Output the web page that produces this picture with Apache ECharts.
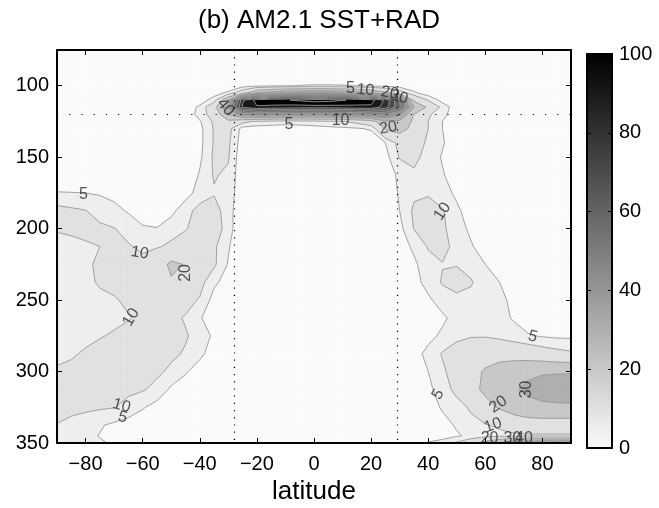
<!DOCTYPE html>
<html>
<head>
<meta charset="utf-8">
<script src="https://cdn.jsdelivr.net/npm/echarts@6/dist/echarts.min.js"></script>
<style>
  html, body { margin: 0; padding: 0; background: #fff; }
  #chart { width: 659px; height: 508px; }
</style>
</head>
<body>
<div id="chart"></div>
<script>
// grid of the field: latitude columns and pressure rows (hPa)
const lats = [-90,-85,-80,-75,-70,-65,-60,-55,-50,-45,-40,-35,-30,-25,-20,-15,-10,-5,0,5,10,15,20,25,30,35,40,45,50,55,60,65,70,75,80,85,90];
const pressures = [75,90,95,100,105,110,115,120,125,130,140,150,162.5,175,187.5,200,212.5,225,237.5,250,262.5,275,287.5,300,312.5,325,337.5,345,350];

// one row per pressure level, one value per latitude
const p075 = [0,0,0,0,0,0,0,0,0,0,0,0,0,0,0,0,0,0,0,0,0,0,0,0,0,0,0,0,0,0,0,0,0,0,0,0,0];
const p090 = [0,0,0,0,0,0,0,0,0,0,0,0,0,0,0,0,0,0,0,0,0,0,0,0,0,0,0,0,0,0,0,0,0,0,0,0,0];
const p095 = [0,0,0,0,0,0,0,0,0,0,0,0,0,0.3,0.6,1,1,1,1,1,1,1,0.6,0.4,0.2,0,0,0,0,0,0,0,0,0,0,0,0];
const p100 = [0,0,0,0,0,0,0,0,0,0,0,0.5,1.5,3,3.5,4,4.5,5.2,5.6,5.6,5.4,4.8,4,3.5,2.5,1.5,0.5,0,0,0,0,0,0,0,0,0,0];
const p105 = [0,0,0,0,0,0,0,0,0,0.3,1.2,3,6,15,30,35,38,40,40,40,38,35,30,22,14,6,2,0.5,0,0,0,0,0,0,0,0,0];
const p110 = [0,0,0,0,0,0,0,0,0.2,1,2.5,7,30,88,104,108,109,112,115,114,111,107,104,88,60,18,9.5,3,0.5,0,0,0,0,0,0,0,0];
const p115 = [0,0,0,0,0,0,0,0,0.3,2,6,16,42,92,99,97,96,95,95,95,96,97,98,85,62,30,18,8,2,0.3,0,0,0,0,0,0,0];
const p120 = [0,0,0,0,0,0,0,0,0.3,1.5,7,13,30,45,48,47,46,45,45,45,46,48,50,50,42,20,11,6.5,2,0.3,0,0,0,0,0,0,0];
const p125 = [0,0,0,0,0,0,0,0,0.2,0.5,4.5,11,18,12,9,8,7,7.5,8,9,9.5,12,16,28,28,18,10,5,1,0.2,0,0,0,0,0,0,0];
const p130 = [0,0,0,0,0,0,0,0,0,0.3,3.5,10.5,12,3,2.5,2.5,2.5,2.5,3,3.5,4,4.5,5.5,21,24,17,10,5,1,0,0,0,0,0,0,0,0];
const p140 = [0,0,0,0,0,0,0,0,0,0.2,3.5,10.5,11,2,1.5,1.2,1.2,1.2,1.2,1.2,1.2,1.2,2,5,12,13,9,5.5,2,0.3,0,0,0,0,0,0,0];
const p150 = [0.5,0.3,0,0,0,0,0,0,0.2,0.5,4,11,10.5,1,1,1,1,1,1,1,1,1,1,3,10.5,11.5,8,4.5,1.5,0.3,0,0,0,0,0,0,0];
const p162 = [2,2,1.5,1,0.5,0.2,0,0,0.3,1,5.5,10.5,9,1,1,1,1,1,1,1,1,1,1,2.5,6,9,8,5.5,2,0.5,0,0,0,0,0,0,0];
const p175 = [5.2,5.1,5,4.5,3.5,2,1,0.5,0.8,3,7,9.5,8,1,1,1,1,1,1,1,1,1,1,2,5.5,9,9.5,7,4,1.5,0.3,0,0,0,0,0,0];
const p187 = [12,11,10.2,8,6.5,4.5,2.5,2,3.5,8,12,12.5,7,1,1,1,1,1,1,1,1,1,1,1.5,5,11,12,10.5,6,2.5,0.5,0,0,0,0,0,0];
const p200 = [10.5,11,11.5,11,10.2,8,5.6,5.2,8,9.5,13,14,7,0.8,1,1,1,1,1,1,1,1,1,1,3.5,10.2,12,11,7,4,1.5,0.3,0,0,0,0,0];
const p212 = [8,8.5,9.3,10,11,10.5,9,9.5,11,14,15,11,5.5,0.8,1,1,1,1,1,1,1,1,1,0.5,2.5,6,10.5,11.5,8.5,5.5,2.5,1,0,0,0,0,0];
const p225 = [8,8.5,9.5,10.5,11,11.5,11.5,15,22,19.5,16,11,4.5,1,1,1,1,1,1,1,1,1,1,0.5,1,4,8,9.8,9.8,8,5,2.5,1,0,0,0,0];
const p237 = [7.5,7.5,9,10.5,11.5,12,12.5,14,19,17,12,6,3,1,1,1,1,1,1,1,1,1,1,0.5,0.5,3,7,10.5,11.5,10.5,7,5,2,0.5,0,0,0];
const p250 = [8,8,8.5,9,9.5,11,12.5,13,13.5,12,9.5,3,1.5,1,1,1,1,1,1,1,1,1,1,0.5,0.5,1.5,4,7.5,9,8.5,7,6,4,1.5,0.5,0,0];
const p262 = [8,8,8,8.5,9,9.7,11,12,11.5,9.5,5.5,2,1,1,1,1,1,1,1,1,1,1,1,0.5,0.5,1,3,4,7,7.5,7,6.5,4.5,2,1,0.5,0.5];
const p275 = [8,8.5,9,9.7,10.5,11.5,12,12,12,10.5,8,4,1.5,1,1,1,1,1,1,1,1,1,1,1,0.8,1.5,3.5,6,8.5,9.5,9.5,8.5,7,5.5,4.5,4,4];
const p287 = [9,9.5,10.5,11.5,12,12.5,12.5,12,11,9.5,6,3,1,1,1,1,1,1,1,1,1,1,1,1,1,3,6.5,10.5,13,15,16,16.5,16,15,13.5,12,11];
const p300 = [10.5,11,11.5,12,12.5,13,12.5,11,9,5.5,3,1.5,1,1,1,1,1,1,1,1,1,1,1,1,1,2,5,9,13,17,21,24,26,28,29,29,29];
const p312 = [12,12,12,12,11.5,11,10.5,8.5,4,2.5,1.5,1,1,1,1,1,1,1,1,1,1,1,1,1,1,2,4,7,12,17,22,26,29,32,34,36,36];
const p325 = [12,11.5,11,10.7,10.2,8.5,5.5,3,2,1.2,1,1,1,1,1,1,1,1,1,1,1,1,1,1,1,1.5,3,5.5,7.5,11,17,21,25,27,28,28,28];
const p337 = [9.8,8.5,7.5,5.5,4,2.5,1.5,1,1,1,1,1,1,1,1,1,1,1,1,1,1,1,1,1,1,1,2,3.5,5.5,8,9.5,11,13,15,15,15,15];
const p345 = [8,7,6,4.8,3,1.5,1,1,1,1,1,1,1,1,1,1,1,1,1,1,1,1,1,1,1,1,2,3,4.5,6,7.5,8.5,9,9,9,9,9];
const p350 = [8,7.5,6.5,5.5,4.5,2,1,1,1,1,1,1,1,1,1,1,1,1,1,1,1,1,1,1,1,2,5.5,7,11,16,24,32,41,44,45,45,45];

const field = [p075,p090,p095,p100,p105,p110,p115,p120,p125,p130,p140,p150,p162,p175,p187,p200,p212,p225,p237,p250,p262,p275,p287,p300,p312,p325,p337,p345,p350];

const levels = [5, 10, 20, 30, 40, 50, 60, 70, 80, 90, 100, 110];

// inline contour labels
const labelText = ['5','10','20','10','10','5','5','10','20','30','40','5','10','20','10','5','30','20','5','10','20','30','40'];
const labelLat  = [-80.7,-61,-44.8,-64,-67.4,-67,12.8,18,26.5,29.8,-31,-8.8,9.3,26,45,76.6,74.5,64.5,43.5,62.7,61.5,69.5,73.5];
const labelP    = [176,217,231,262,324,332,101.7,103,105,108,115,127.5,124.7,129.5,188,275.5,312.5,323,316,337.7,347,347,347];
const labelRot  = [0,-10,90,60,-15,-15,0,-5,-10,-15,-50,0,0,10,55,-15,90,35,60,20,0,0,0];

// dotted reference lines
const refLats = [-28, 29.3];
const refPressures = [120];

const xTicks = [-80,-60,-40,-20,0,20,40,60,80];
const yTicks = [100,150,200,250,300,350];
const colorbarRange = [0, 100];

const FONT = 'Liberation Sans, Arial, Helvetica, sans-serif';
const bandFloor = [0].concat(levels);

function shade(v) {
  const g = Math.max(0, Math.round(250 * (1 - v / 100)));
  return 'rgb(' + g + ',' + g + ',' + g + ')';
}

// part of one grid cell where the field is >= t (marching squares)
function cellRing(i, j, t) {
  const xs = [lats[j], lats[j + 1], lats[j + 1], lats[j]];
  const ys = [pressures[i], pressures[i], pressures[i + 1], pressures[i + 1]];
  const vs = [field[i][j], field[i][j + 1], field[i + 1][j + 1], field[i + 1][j]];
  const ring = [];
  for (let k = 0; k < 4; k++) {
    const n = (k + 1) % 4;
    const inA = vs[k] >= t, inB = vs[n] >= t;
    if (inA) ring.push({ x: xs[k], y: ys[k], cut: false });
    if (inA !== inB) {
      const f = (t - vs[k]) / (vs[n] - vs[k]);
      ring.push({ x: xs[k] + f * (xs[n] - xs[k]), y: ys[k] + f * (ys[n] - ys[k]), cut: true });
    }
  }
  return ring;
}

function cornerRange(i, j) {
  const v = [field[i][j], field[i][j + 1], field[i + 1][j], field[i + 1][j + 1]];
  return [Math.min.apply(null, v), Math.max.apply(null, v)];
}

const fillItems = [];
const lineItems = [];
for (let k = 0; k <= levels.length; k++) {
  for (let i = 0; i < pressures.length - 1; i++) {
    for (let j = 0; j < lats.length - 1; j++) {
      const r = cornerRange(i, j);
      if (k === 0 || r[1] >= levels[k - 1]) fillItems.push([lats[j], pressures[i], k, i, j]);
      if (k < levels.length && r[0] < levels[k] && r[1] >= levels[k]) lineItems.push([lats[j], pressures[i], k, i, j]);
    }
  }
}

function renderFill(params, api) {
  const k = api.value(2), i = api.value(3), j = api.value(4);
  const t = k === 0 ? -Infinity : levels[k - 1];
  const ring = cellRing(i, j, t);
  if (ring.length < 3) return null;
  const c = shade(bandFloor[k]);
  return {
    type: 'polygon',
    shape: { points: ring.map(p => api.coord([p.x, p.y])) },
    style: { fill: c, stroke: c, lineWidth: 0.6 }
  };
}

function renderLine(params, api) {
  const m = api.value(2), i = api.value(3), j = api.value(4);
  const ring = cellRing(i, j, levels[m]);
  const children = [];
  for (let a = 0; a < ring.length; a++) {
    const b = (a + 1) % ring.length;
    if (ring[a].cut && ring[b].cut) {
      const p1 = api.coord([ring[a].x, ring[a].y]);
      const p2 = api.coord([ring[b].x, ring[b].y]);
      children.push({
        type: 'line',
        shape: { x1: p1[0], y1: p1[1], x2: p2[0], y2: p2[1] },
        style: { stroke: '#9a9a9a', lineWidth: 0.9 }
      });
    }
  }
  return { type: 'group', children: children };
}

function renderColorbar(params, api) {
  const lo = api.coord([api.value(0), api.value(1)]);
  const hi = api.coord([api.value(0), api.value(2)]);
  const w = api.size([1, 0])[0];
  return {
    type: 'rect',
    shape: { x: lo[0] - w / 2, y: hi[1], width: w, height: lo[1] - hi[1] },
    style: {
      fill: new echarts.graphic.LinearGradient(0, 0, 0, 1, [
        { offset: 0, color: shade(colorbarRange[1]) },
        { offset: 1, color: shade(colorbarRange[0]) }
      ])
    }
  };
}

const fmtLat = v => (v < 0 ? '\u2212' + (-v) : String(v));
const axisLine = { show: true, onZero: false, lineStyle: { color: '#000', width: 2 } };
const tickStyle = { color: '#000', width: 1 };

const chart = echarts.init(document.getElementById('chart'));

const option = {
  animation: false,
  backgroundColor: '#fff',
  title: {
    text: '(b) AM2.1 SST+RAD',
    left: 314,
    top: 3,
    textAlign: 'center',
    textStyle: { fontFamily: FONT, fontSize: 26, fontWeight: 'normal', color: '#000' }
  },
  grid: [
    { left: 57, top: 50, width: 514, height: 393, outerBoundsMode: 'none' },
    { left: 587, top: 54, width: 25, height: 394, outerBoundsMode: 'none' }
  ],
  xAxis: [
    {
      gridIndex: 0, type: 'value', min: -90, max: 90, position: 'bottom', z: 10,
      axisLine: axisLine,
      axisTick: { show: true, inside: true, length: 5, lineStyle: tickStyle, customValues: xTicks },
      axisLabel: { customValues: xTicks, formatter: fmtLat, color: '#000', fontSize: 20, fontFamily: FONT, margin: 11 },
      splitLine: { show: false },
      name: 'latitude', nameLocation: 'middle', nameGap: 36,
      nameTextStyle: { fontSize: 26, color: '#000', fontFamily: FONT }
    },
    {
      gridIndex: 0, type: 'value', min: -90, max: 90, position: 'top', z: 10,
      axisLine: axisLine,
      axisTick: { show: true, inside: true, length: 5, lineStyle: tickStyle, customValues: xTicks },
      axisLabel: { show: false },
      splitLine: { show: false }
    },
    {
      gridIndex: 1, type: 'category', data: ['bar'], position: 'bottom', z: 10,
      axisLine: axisLine, axisTick: { show: false }, axisLabel: { show: false }
    },
    {
      gridIndex: 1, type: 'category', data: ['bar'], position: 'top', z: 10,
      axisLine: axisLine, axisTick: { show: false }, axisLabel: { show: false }
    }
  ],
  yAxis: [
    {
      gridIndex: 0, type: 'value', min: 75, max: 350, inverse: true, position: 'left', z: 10,
      axisLine: axisLine,
      axisTick: { show: true, inside: true, length: 5, lineStyle: tickStyle, customValues: yTicks },
      axisLabel: { customValues: yTicks, color: '#000', fontSize: 20, fontFamily: FONT, margin: 8 },
      splitLine: { show: false }
    },
    {
      gridIndex: 0, type: 'value', min: 75, max: 350, inverse: true, position: 'right', z: 10,
      axisLine: axisLine,
      axisTick: { show: true, inside: true, length: 5, lineStyle: tickStyle, customValues: yTicks },
      axisLabel: { show: false },
      splitLine: { show: false }
    },
    {
      gridIndex: 1, type: 'value', min: 0, max: 100, interval: 20, position: 'right', z: 10,
      axisLine: axisLine,
      axisTick: { show: true, inside: true, length: 4, lineStyle: tickStyle },
      axisLabel: { color: '#000', fontSize: 20, fontFamily: FONT, margin: 7 },
      splitLine: { show: false }
    },
    {
      gridIndex: 1, type: 'value', min: 0, max: 100, interval: 20, position: 'left', z: 10,
      axisLine: axisLine,
      axisTick: { show: true, inside: true, length: 4, lineStyle: tickStyle },
      axisLabel: { show: false },
      splitLine: { show: false }
    }
  ],
  series: [
    {
      type: 'custom', name: 'fill', xAxisIndex: 0, yAxisIndex: 0, z: 1, silent: true,
      encode: { x: 0, y: 1 }, data: fillItems, renderItem: renderFill
    },
    {
      type: 'custom', name: 'contours', xAxisIndex: 0, yAxisIndex: 0, z: 2, silent: true,
      encode: { x: 0, y: 1 }, data: lineItems, renderItem: renderLine
    },
    {
      type: 'scatter', name: 'labels', xAxisIndex: 0, yAxisIndex: 0, z: 4, silent: true,
      symbolSize: 0,
      data: labelText.map((s, n) => ({
        value: [labelLat[n], labelP[n]],
        label: { formatter: s, rotate: labelRot[n] }
      })),
      label: {
        show: true, position: 'inside', color: '#2a2a2a', fontSize: 16, fontFamily: FONT
      },
      markLine: {
        silent: true, symbol: ['none', 'none'], label: { show: false },
        lineStyle: { color: '#000', width: 1.2, type: [1.2, 6] },
        data: refLats.map(v => ({ xAxis: v })).concat(
          refPressures.map(v => ({ yAxis: v, lineStyle: { color: '#000', width: 1.2, type: [1.2, 11] } })))
      }
    },
    {
      type: 'custom', name: 'colorbar', xAxisIndex: 2, yAxisIndex: 2, z: 1, silent: true,
      encode: { x: 0, y: [1, 2] }, data: [[0, colorbarRange[0], colorbarRange[1]]],
      renderItem: renderColorbar
    }
  ]
};

chart.setOption(option);
</script>
</body>
</html>
